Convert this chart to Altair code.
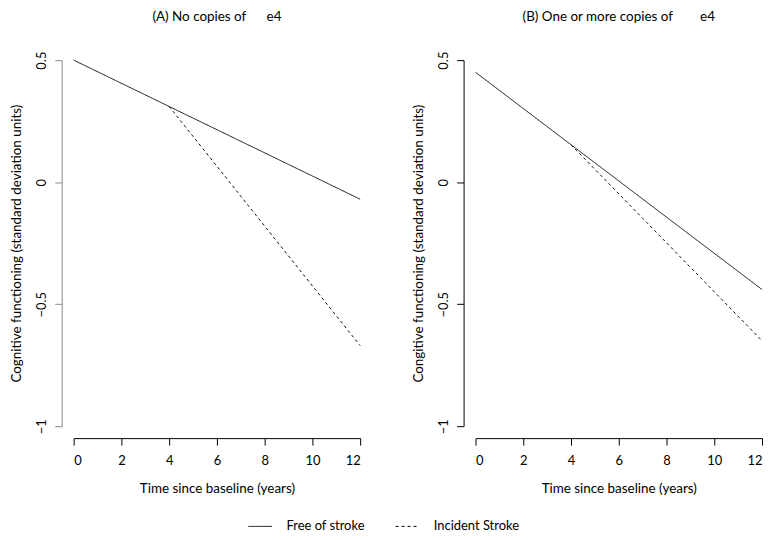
import altair as alt
import pandas as pd

series = ["Free of stroke", "Incident Stroke"]

a_free_x = [0, 12]
a_free_y = [0.50, -0.07]
a_inc_x = [4, 12]
a_inc_y = [0.31, -0.67]

b_free_x = [0, 12]
b_free_y = [0.45, -0.44]
b_inc_x = [4, 12]
b_inc_y = [0.153, -0.65]

x_ticks = [0, 2, 4, 6, 8, 10, 12]
y_ticks = [-1, -0.5, 0, 0.5]

NB = "\u00a0"
titles = ["(A) No copies of" + NB * 6 + "e4", "(B) One or more copies of" + NB * 8 + "e4"]
y_titles = ["Cognitive functioning (standard deviation units)",
            "Congitive functioning (standard deviation units)"]
x_title = "Time since baseline (years)"

FONT = "Lato"


def make_df(fx, fy, ix, iy):
    rows = []
    for x, y in zip(fx, fy):
        rows.append({"time": x, "value": y, "series": series[0]})
    for x, y in zip(ix, iy):
        rows.append({"time": x, "value": y, "series": series[1]})
    return pd.DataFrame(rows)


def panel(df, title, ytitle, ycolor, show_legend):
    legend = alt.Legend(
        title=None, orient="none", direction="horizontal",
        legendX=175, legendY=456,
        symbolType="stroke", symbolSize=560, symbolStrokeWidth=1,
        symbolStrokeColor="black", labelFontSize=13, labelFont=FONT,
        labelOffset=14, columnPadding=28, labelColor="black",
    ) if show_legend else None
    return alt.Chart(df).mark_line(strokeWidth=1, color="#111", clip=False).encode(
        x=alt.X("time:Q",
                scale=alt.Scale(domain=[0, 12], nice=False, zero=False),
                axis=alt.Axis(values=x_ticks, title=x_title, offset=12, grid=False,
                              tickSize=7, labelPadding=10, titlePadding=14,
                              format="~g",
                              domainColor="black", tickColor="black")),
        y=alt.Y("value:Q",
                scale=alt.Scale(domain=[-1, 0.5], nice=False, zero=False),
                axis=alt.Axis(values=y_ticks, title=ytitle, offset=12, grid=False,
                              tickSize=7, labelAngle=270, labelPadding=6,
                              labelAlign="center", labelBaseline="bottom",
                              titlePadding=12, format="~g",
                              domainColor=ycolor, tickColor=ycolor)),
        strokeDash=alt.StrokeDash("series:N",
                                  scale=alt.Scale(domain=series, range=[[1, 0], [3, 3]]),
                                  legend=legend),
    ).properties(width=288, height=368,
                 title=alt.TitleParams(title, fontSize=13.5, font=FONT,
                                       fontWeight="normal", offset=28, color="black"))


dfa = make_df(a_free_x, a_free_y, a_inc_x, a_inc_y)
dfb = make_df(b_free_x, b_free_y, b_inc_x, b_inc_y)

chart = alt.hconcat(
    panel(dfa, titles[0], y_titles[0], "#888888", True),
    panel(dfb, titles[1], y_titles[1], "black", False),
    spacing=50,
).configure(
    background="white", padding={"left": 2, "top": 0, "right": 2, "bottom": 0}
).configure_view(stroke=None).configure_axis(
    labelFont=FONT, titleFont=FONT, labelFontSize=13, titleFontSize=13.5,
    titleFontWeight="normal", labelColor="black", titleColor="black",
    domainWidth=1, tickWidth=1,
)

chart.save("out.html", embed_options={"renderer": "svg", "actions": False})
